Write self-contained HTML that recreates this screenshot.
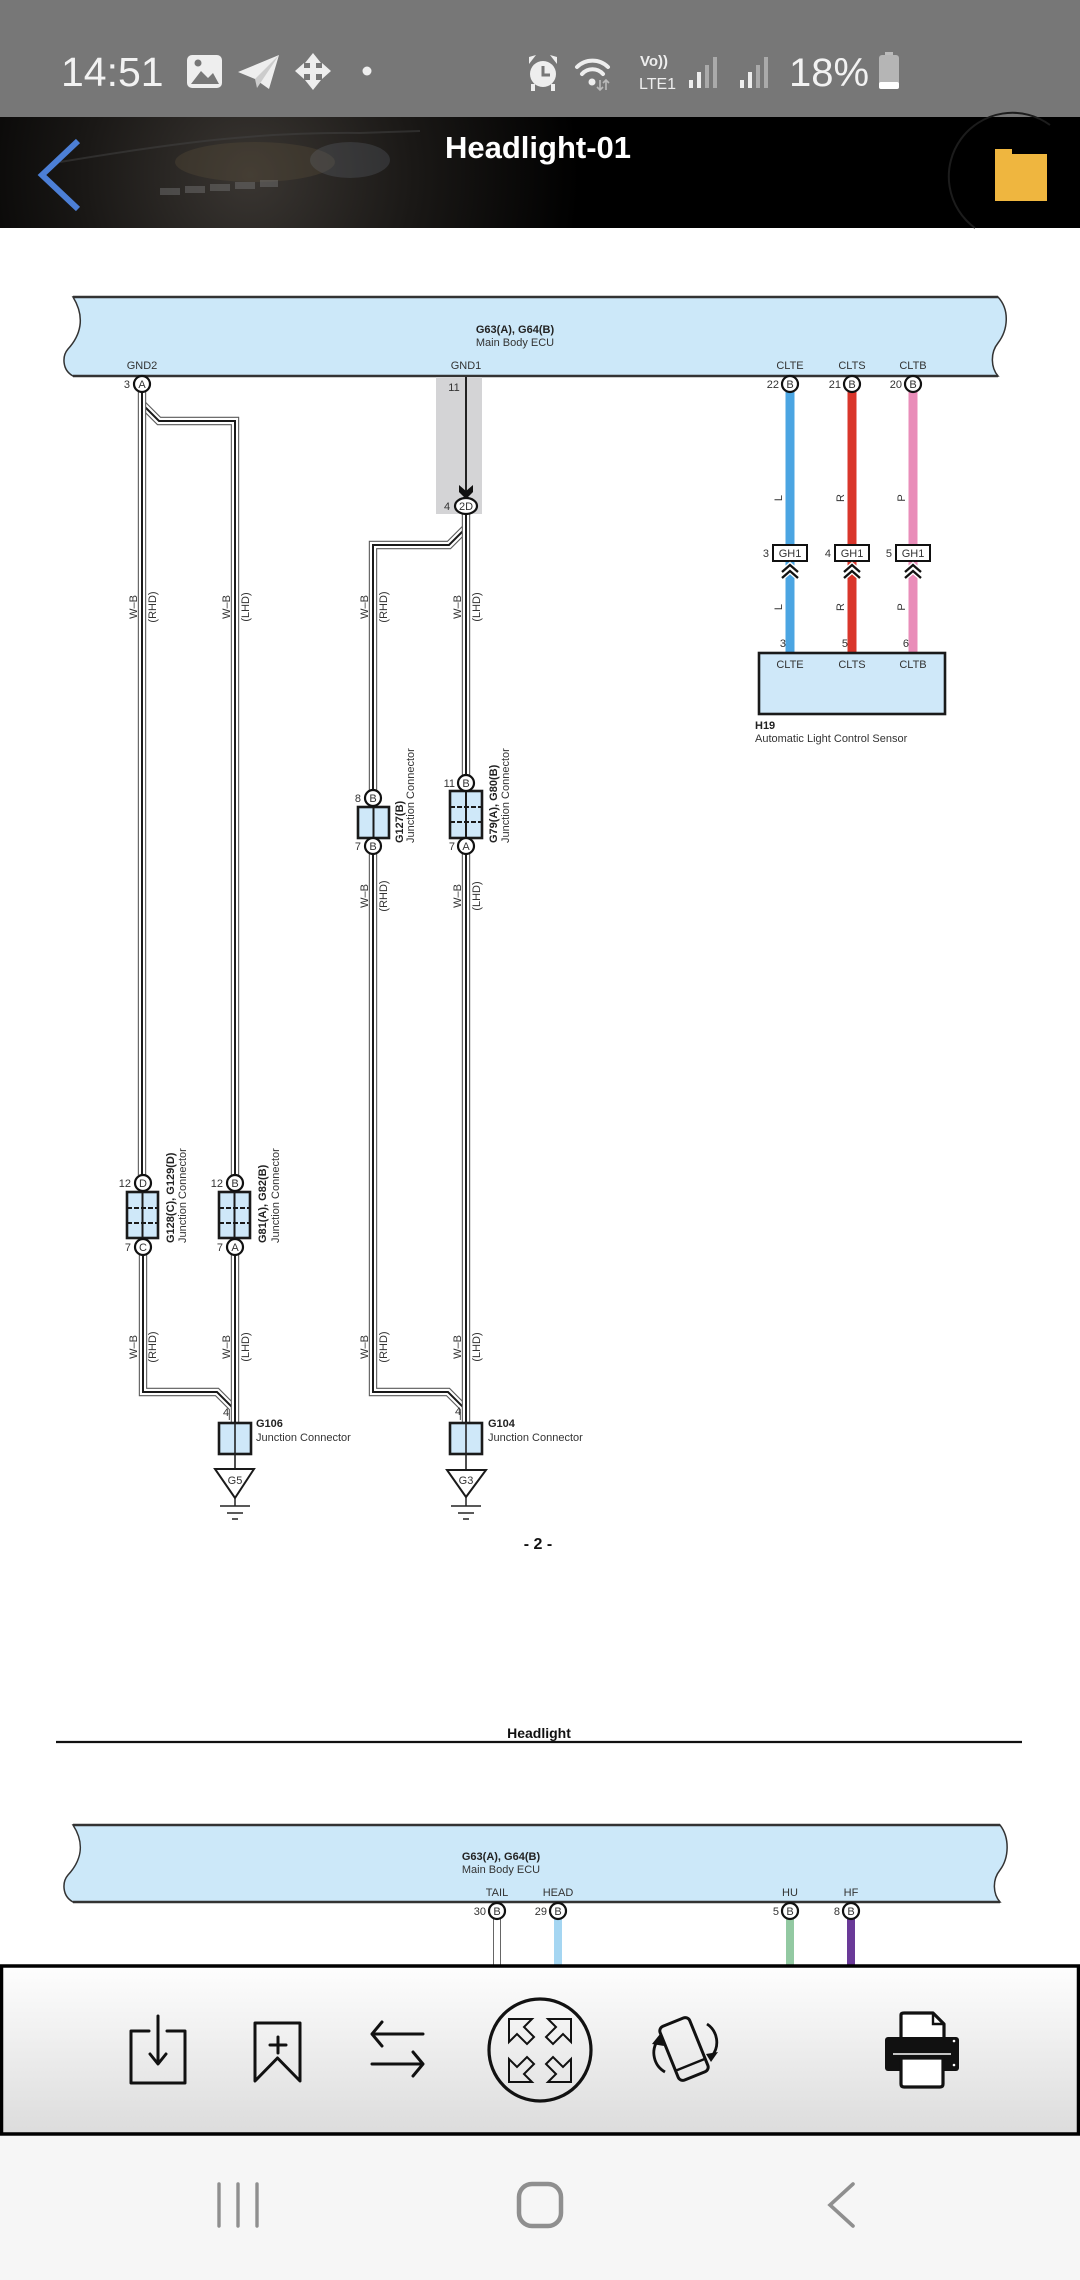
<!DOCTYPE html>
<html><head><meta charset="utf-8"><style>
html,body{margin:0;padding:0;background:#fff;}
body{width:1080px;height:2280px;overflow:hidden;position:relative;font-family:"Liberation Sans",Arial,sans-serif;}
svg{position:absolute;left:0;top:0;}
.t{font-family:"Liberation Sans",Arial,sans-serif;font-size:11px;fill:#333;}
.b{font-weight:bold;fill:#222;}
.wo{fill:none;stroke:#5a5a5a;stroke-width:8.4;}
.wm{fill:none;stroke:#fff;stroke-width:6.2;}
.wc{fill:none;stroke:#1a1a1a;stroke-width:2;}
.pin{fill:#fff;stroke:#111;stroke-width:2.2;}
.jc{fill:#cfe8f9;stroke:#1a1a1a;stroke-width:2.6;}
.ic{fill:none;stroke:#111;stroke-width:3;stroke-linecap:round;stroke-linejoin:round;}
</style></head><body>
<svg width="1080" height="2280" viewBox="0 0 1080 2280" xmlns="http://www.w3.org/2000/svg">
<defs>
<radialGradient id="car" cx="250" cy="175" r="330" gradientUnits="userSpaceOnUse">
<stop offset="0" stop-color="#3a3632"/><stop offset="0.5" stop-color="#1a1816"/><stop offset="1" stop-color="#000"/>
</radialGradient>
<linearGradient id="tb" x1="0" y1="0" x2="0" y2="1">
<stop offset="0" stop-color="#fefefe"/><stop offset="1" stop-color="#dcdcdc"/>
</linearGradient>
</defs>

<!-- STATUS BAR -->
<rect x="0" y="0" width="1080" height="117" fill="#777"/>
<text x="61" y="86" font-family="Liberation Sans, Arial, sans-serif" font-size="41" fill="#f2f2f2">14:51</text>
<rect x="187" y="55" width="35" height="33" rx="5" fill="#eee"/>
<polygon points="191,84 201,71 208,78 213,73 219,84" fill="#777"/>
<circle cx="198" cy="63" r="3.5" fill="#777"/>
<polygon points="238,72 279,55 269,89 255,79" fill="#eee"/>
<polygon points="255,79 279,55 257,88" fill="#ccc"/>
<g fill="#eee"><polygon points="313,53 305,63 321,63"/><polygon points="313,90 305,80 321,80"/><polygon points="295,71 304,63 304,79"/><polygon points="331,71 322,63 322,79"/><rect x="310" y="60" width="6" height="23"/><rect x="302" y="68" width="22" height="6"/></g>
<circle cx="367" cy="71" r="4.5" fill="#eee"/>
<g fill="#eee"><circle cx="543" cy="74" r="13"/><polygon points="529,64 536,55 529,57"/><polygon points="557,64 550,55 557,57"/><rect x="531" y="84" width="4" height="7"/><rect x="551" y="84" width="4" height="7"/></g>
<path d="M543,66 V75 H550" stroke="#777" stroke-width="3" fill="none"/>
<g fill="none" stroke="#eee" stroke-width="4" stroke-linecap="round"><path d="M577,67 A22,22 0 0 1 608,67"/><path d="M582,74 A14,14 0 0 1 603,74"/></g>
<circle cx="592" cy="82" r="3.5" fill="#eee"/>
<path d="M600,80 v10 M597,87 l3,3 l3,-3 M606,90 v-10 M603,83 l3,-3 l3,3" stroke="#bbb" stroke-width="1.6" fill="none"/>
<text x="640" y="66" font-size="15" font-weight="bold" fill="#eee" font-family="Liberation Sans, Arial, sans-serif">Vo))</text>
<text x="639" y="89" font-size="16" fill="#eee" font-family="Liberation Sans, Arial, sans-serif">LTE1</text>
<g><rect x="689" y="80" width="4" height="8" fill="#eee"/><rect x="697" y="72" width="4" height="16" fill="#eee"/><rect x="705" y="65" width="4" height="23" fill="#aaa"/><rect x="713" y="57" width="4" height="31" fill="#aaa"/></g>
<g><rect x="740" y="80" width="4" height="8" fill="#eee"/><rect x="748" y="72" width="4" height="16" fill="#eee"/><rect x="756" y="65" width="4" height="23" fill="#aaa"/><rect x="764" y="57" width="4" height="31" fill="#aaa"/></g>
<text x="789" y="86" font-family="Liberation Sans, Arial, sans-serif" font-size="40" fill="#f2f2f2">18%</text>
<rect x="885" y="52" width="8" height="5" fill="#bbb"/>
<rect x="879" y="55" width="20" height="34" rx="3" fill="#b5b5b5"/>
<rect x="879" y="82" width="20" height="7" rx="2" fill="#fff"/>

<!-- APP BAR -->
<rect x="0" y="117" width="1080" height="111" fill="#000"/>
<rect x="0" y="117" width="700" height="111" fill="url(#car)"/>
<path d="M60,162 C180,142 260,132 360,133 L420,131" stroke="#444" stroke-width="2" fill="none" opacity="0.5"/>
<ellipse cx="255" cy="162" rx="80" ry="20" fill="#5a4c3a" opacity="0.35"/>
<ellipse cx="350" cy="160" rx="40" ry="18" fill="#6a7280" opacity="0.25"/>
<g fill="#777" opacity="0.45"><rect x="160" y="188" width="20" height="7"/><rect x="185" y="186" width="20" height="7"/><rect x="210" y="184" width="20" height="7"/><rect x="235" y="182" width="20" height="7"/><rect x="260" y="180" width="18" height="7"/></g>
<polyline points="78,141 42,175 78,209" fill="none" stroke="#4c7fd6" stroke-width="6" stroke-linejoin="miter"/>
<text x="538" y="158" text-anchor="middle" font-family="Liberation Sans, Arial, sans-serif" font-size="31" font-weight="bold" fill="#fff">Headlight-01</text>
<path d="M975,228 A60,60 0 0 1 1050,125" stroke="#1c1c1c" stroke-width="2" fill="none"/>
<path d="M995,149 H1012 V154 H1047 V201 H995 Z" fill="#efb63f"/>

<!-- ================= DIAGRAM 1 ================= -->
<path d="M73,297 H998 C1010,310 1008,330 998,343 C990,353 991,368 998,376 H73 C62,370 62,356 68,349 C80,336 86,318 73,297 Z" fill="#cce8f9" stroke="#333" stroke-width="1.5"/>
<line x1="73" y1="297" x2="998" y2="297" stroke="#333" stroke-width="2.5"/>
<line x1="73" y1="376" x2="998" y2="376" stroke="#333" stroke-width="2.5"/>
<text class="t b" x="515" y="333" text-anchor="middle">G63(A), G64(B)</text>
<text class="t" x="515" y="346" text-anchor="middle">Main Body ECU</text>
<text class="t" x="142" y="369" text-anchor="middle">GND2</text>
<text class="t" x="466" y="369" text-anchor="middle">GND1</text>
<text class="t" x="790" y="369" text-anchor="middle">CLTE</text>
<text class="t" x="852" y="369" text-anchor="middle">CLTS</text>
<text class="t" x="913" y="369" text-anchor="middle">CLTB</text>

<rect x="436" y="377" width="46" height="137" fill="#d4d4d6"/>
<line x1="466" y1="377" x2="466" y2="492" stroke="#222" stroke-width="2"/>
<path d="M459,485 L466,491 L473,485 L473,492 L466,499 L459,492 Z" fill="#111"/>
<text class="t" x="454" y="391" text-anchor="middle">11</text>

<g>
<path class="wo" d="M142,404 L159,421 H235 V1175"/><path class="wm" d="M142,404 L159,421 H235 V1175"/><path class="wc" d="M142,404 L159,421 H235 V1175"/>
<path class="wo" d="M142,392 V1175"/><path class="wm" d="M142,392 V1175"/><path class="wc" d="M142,392 V1175"/>
<path class="wo" d="M466,528 L449,545 H373 V790"/><path class="wm" d="M466,528 L449,545 H373 V790"/><path class="wc" d="M466,528 L449,545 H373 V790"/>
<path class="wo" d="M466,514 V775"/><path class="wm" d="M466,514 V775"/><path class="wc" d="M466,514 V775"/>
<path class="wo" d="M143,1255 V1392 H217 L233,1408 V1420"/><path class="wm" d="M143,1255 V1392 H217 L233,1408 V1420"/><path class="wc" d="M143,1255 V1392 H217 L233,1408 V1420"/>
<path class="wo" d="M235,1255 V1423"/><path class="wm" d="M235,1255 V1423"/><path class="wc" d="M235,1255 V1423"/>
<path class="wo" d="M373,854 V1392 H448 L464,1408 V1420"/><path class="wm" d="M373,854 V1392 H448 L464,1408 V1420"/><path class="wc" d="M373,854 V1392 H448 L464,1408 V1420"/>
<path class="wo" d="M466,854 V1423"/><path class="wm" d="M466,854 V1423"/><path class="wc" d="M466,854 V1423"/>
</g>

<circle class="pin" cx="142" cy="384" r="8"/><text class="t" x="142" y="388" text-anchor="middle" font-size="10">A</text>
<text class="t" x="130" y="388" text-anchor="end">3</text>
<ellipse class="pin" cx="466" cy="506" rx="11" ry="8"/><text class="t" x="466" y="510" text-anchor="middle" font-size="10">2D</text>
<text class="t" x="447" y="510" text-anchor="middle">4</text>

<line x1="790" y1="392" x2="790" y2="653" stroke="#4ba5e2" stroke-width="9"/>
<line x1="852" y1="392" x2="852" y2="653" stroke="#d9362b" stroke-width="9"/>
<line x1="913" y1="392" x2="913" y2="653" stroke="#e98db9" stroke-width="9"/>
<circle class="pin" cx="790" cy="384" r="8"/><text class="t" x="790" y="388" text-anchor="middle" font-size="10">B</text>
<circle class="pin" cx="852" cy="384" r="8"/><text class="t" x="852" y="388" text-anchor="middle" font-size="10">B</text>
<circle class="pin" cx="913" cy="384" r="8"/><text class="t" x="913" y="388" text-anchor="middle" font-size="10">B</text>
<text class="t" x="779" y="388" text-anchor="end">22</text>
<text class="t" x="841" y="388" text-anchor="end">21</text>
<text class="t" x="902" y="388" text-anchor="end">20</text>
<g class="t" font-size="10">
<text transform="translate(782,498) rotate(-90)" text-anchor="middle">L</text>
<text transform="translate(844,498) rotate(-90)" text-anchor="middle">R</text>
<text transform="translate(905,498) rotate(-90)" text-anchor="middle">P</text>
<text transform="translate(782,607) rotate(-90)" text-anchor="middle">L</text>
<text transform="translate(844,607) rotate(-90)" text-anchor="middle">R</text>
<text transform="translate(905,607) rotate(-90)" text-anchor="middle">P</text>
</g>
<g>
<rect x="773" y="545" width="34" height="16" fill="#fff" stroke="#111" stroke-width="2"/>
<rect x="835" y="545" width="34" height="16" fill="#fff" stroke="#111" stroke-width="2"/>
<rect x="896" y="545" width="34" height="16" fill="#fff" stroke="#111" stroke-width="2"/>
<text class="t" x="790" y="557" text-anchor="middle">GH1</text>
<text class="t" x="852" y="557" text-anchor="middle">GH1</text>
<text class="t" x="913" y="557" text-anchor="middle">GH1</text>
<text class="t" x="769" y="557" text-anchor="end">3</text>
<text class="t" x="831" y="557" text-anchor="end">4</text>
<text class="t" x="892" y="557" text-anchor="end">5</text>
<g fill="none" stroke="#fff" stroke-width="5">
<polyline points="782,572 790,565 798,572"/><polyline points="782,578 790,571 798,578"/>
<polyline points="844,572 852,565 860,572"/><polyline points="844,578 852,571 860,578"/>
<polyline points="905,572 913,565 921,572"/><polyline points="905,578 913,571 921,578"/>
</g>
<g fill="none" stroke="#111" stroke-width="2.3">
<polyline points="782,572 790,565 798,572"/><polyline points="782,578 790,571 798,578"/>
<polyline points="844,572 852,565 860,572"/><polyline points="844,578 852,571 860,578"/>
<polyline points="905,572 913,565 921,572"/><polyline points="905,578 913,571 921,578"/>
</g>
</g>
<text class="t" x="786" y="647" text-anchor="end">3</text>
<text class="t" x="848" y="647" text-anchor="end">5</text>
<text class="t" x="909" y="647" text-anchor="end">6</text>
<rect x="759" y="653" width="186" height="61" fill="#cfe8f9" stroke="#1a1a1a" stroke-width="2.6"/>
<text class="t" x="790" y="668" text-anchor="middle">CLTE</text>
<text class="t" x="852" y="668" text-anchor="middle">CLTS</text>
<text class="t" x="913" y="668" text-anchor="middle">CLTB</text>
<text class="t b" x="755" y="729">H19</text>
<text class="t" x="755" y="742">Automatic Light Control Sensor</text>

<g class="t" font-size="10" fill="#444">
<text transform="translate(137,607) rotate(-90)" text-anchor="middle">W–B</text>
<text transform="translate(156,607) rotate(-90)" text-anchor="middle">(RHD)</text>
<text transform="translate(230,607) rotate(-90)" text-anchor="middle">W–B</text>
<text transform="translate(249,607) rotate(-90)" text-anchor="middle">(LHD)</text>
<text transform="translate(368,607) rotate(-90)" text-anchor="middle">W–B</text>
<text transform="translate(387,607) rotate(-90)" text-anchor="middle">(RHD)</text>
<text transform="translate(461,607) rotate(-90)" text-anchor="middle">W–B</text>
<text transform="translate(480,607) rotate(-90)" text-anchor="middle">(LHD)</text>
<text transform="translate(368,896) rotate(-90)" text-anchor="middle">W–B</text>
<text transform="translate(387,896) rotate(-90)" text-anchor="middle">(RHD)</text>
<text transform="translate(461,896) rotate(-90)" text-anchor="middle">W–B</text>
<text transform="translate(480,896) rotate(-90)" text-anchor="middle">(LHD)</text>
<text transform="translate(137,1347) rotate(-90)" text-anchor="middle">W–B</text>
<text transform="translate(156,1347) rotate(-90)" text-anchor="middle">(RHD)</text>
<text transform="translate(230,1347) rotate(-90)" text-anchor="middle">W–B</text>
<text transform="translate(249,1347) rotate(-90)" text-anchor="middle">(LHD)</text>
<text transform="translate(368,1347) rotate(-90)" text-anchor="middle">W–B</text>
<text transform="translate(387,1347) rotate(-90)" text-anchor="middle">(RHD)</text>
<text transform="translate(461,1347) rotate(-90)" text-anchor="middle">W–B</text>
<text transform="translate(480,1347) rotate(-90)" text-anchor="middle">(LHD)</text>
</g>

<!-- G127 -->
<rect class="jc" x="358" y="807" width="31" height="31"/>
<line x1="373.5" y1="807" x2="373.5" y2="838" stroke="#1a1a1a" stroke-width="2"/>
<circle class="pin" cx="373" cy="798" r="8"/><text class="t" x="373" y="802" text-anchor="middle" font-size="10">B</text>
<circle class="pin" cx="373" cy="846" r="8"/><text class="t" x="373" y="850" text-anchor="middle" font-size="10">B</text>
<text class="t" x="361" y="802" text-anchor="end">8</text>
<text class="t" x="361" y="850" text-anchor="end">7</text>
<text class="t b" transform="translate(403,843) rotate(-90)">G127(B)</text>
<text class="t" transform="translate(414,843) rotate(-90)">Junction Connector</text>

<!-- G79 -->
<rect class="jc" x="450" y="791" width="32" height="47"/>
<line x1="466" y1="791" x2="466" y2="838" stroke="#1a1a1a" stroke-width="2"/>
<line x1="450" y1="807" x2="482" y2="807" stroke="#1a1a1a" stroke-width="2" stroke-dasharray="5,2"/>
<line x1="450" y1="822" x2="482" y2="822" stroke="#1a1a1a" stroke-width="2" stroke-dasharray="5,2"/>
<circle class="pin" cx="466" cy="783" r="8"/><text class="t" x="466" y="787" text-anchor="middle" font-size="10">B</text>
<circle class="pin" cx="466" cy="846" r="8"/><text class="t" x="466" y="850" text-anchor="middle" font-size="10">A</text>
<text class="t" x="455" y="787" text-anchor="end">11</text>
<text class="t" x="455" y="850" text-anchor="end">7</text>
<text class="t b" transform="translate(497,843) rotate(-90)">G79(A), G80(B)</text>
<text class="t" transform="translate(509,843) rotate(-90)">Junction Connector</text>

<!-- G128 -->
<rect class="jc" x="127" y="1192" width="31" height="46"/>
<line x1="142.5" y1="1192" x2="142.5" y2="1238" stroke="#1a1a1a" stroke-width="2"/>
<line x1="127" y1="1208" x2="158" y2="1208" stroke="#1a1a1a" stroke-width="2" stroke-dasharray="5,2"/>
<line x1="127" y1="1223" x2="158" y2="1223" stroke="#1a1a1a" stroke-width="2" stroke-dasharray="5,2"/>
<circle class="pin" cx="143" cy="1183" r="8"/><text class="t" x="143" y="1187" text-anchor="middle" font-size="10">D</text>
<circle class="pin" cx="143" cy="1247" r="8"/><text class="t" x="143" y="1251" text-anchor="middle" font-size="10">C</text>
<text class="t" x="131" y="1187" text-anchor="end">12</text>
<text class="t" x="131" y="1251" text-anchor="end">7</text>
<text class="t b" transform="translate(174,1243) rotate(-90)">G128(C), G129(D)</text>
<text class="t" transform="translate(186,1243) rotate(-90)">Junction Connector</text>

<!-- G81 -->
<rect class="jc" x="219" y="1192" width="31" height="46"/>
<line x1="234.5" y1="1192" x2="234.5" y2="1238" stroke="#1a1a1a" stroke-width="2"/>
<line x1="219" y1="1208" x2="250" y2="1208" stroke="#1a1a1a" stroke-width="2" stroke-dasharray="5,2"/>
<line x1="219" y1="1223" x2="250" y2="1223" stroke="#1a1a1a" stroke-width="2" stroke-dasharray="5,2"/>
<circle class="pin" cx="235" cy="1183" r="8"/><text class="t" x="235" y="1187" text-anchor="middle" font-size="10">B</text>
<circle class="pin" cx="235" cy="1247" r="8"/><text class="t" x="235" y="1251" text-anchor="middle" font-size="10">A</text>
<text class="t" x="223" y="1187" text-anchor="end">12</text>
<text class="t" x="223" y="1251" text-anchor="end">7</text>
<text class="t b" transform="translate(266,1243) rotate(-90)">G81(A), G82(B)</text>
<text class="t" transform="translate(279,1243) rotate(-90)">Junction Connector</text>

<!-- G106 / G104 -->
<text class="t" x="226" y="1416" text-anchor="middle">4</text>
<text class="t" x="458" y="1415" text-anchor="middle">4</text>
<rect class="jc" x="219" y="1423" width="32" height="31"/>
<rect class="jc" x="450" y="1423" width="32" height="31"/>
<line x1="235" y1="1423" x2="235" y2="1469" stroke="#222" stroke-width="1.6"/>
<line x1="466" y1="1423" x2="466" y2="1470" stroke="#222" stroke-width="1.6"/>
<text class="t b" x="256" y="1427">G106</text>
<text class="t" x="256" y="1441">Junction Connector</text>
<text class="t b" x="488" y="1427">G104</text>
<text class="t" x="488" y="1441">Junction Connector</text>
<polygon points="215,1469 254,1469 235,1498" fill="#fff" stroke="#1a1a1a" stroke-width="2"/>
<text class="t" x="235" y="1484" text-anchor="middle" font-size="10">G5</text>
<line x1="235" y1="1498" x2="235" y2="1506" stroke="#222" stroke-width="1.5"/>
<line x1="220" y1="1506" x2="250" y2="1506" stroke="#222" stroke-width="1.5"/>
<line x1="227" y1="1513" x2="243" y2="1513" stroke="#222" stroke-width="1.5"/>
<line x1="232" y1="1519" x2="238" y2="1519" stroke="#222" stroke-width="1.5"/>
<polygon points="447,1470 486,1470 466,1497" fill="#fff" stroke="#1a1a1a" stroke-width="2"/>
<text class="t" x="466" y="1484" text-anchor="middle" font-size="10">G3</text>
<line x1="466" y1="1497" x2="466" y2="1506" stroke="#222" stroke-width="1.5"/>
<line x1="451" y1="1506" x2="481" y2="1506" stroke="#222" stroke-width="1.5"/>
<line x1="458" y1="1513" x2="474" y2="1513" stroke="#222" stroke-width="1.5"/>
<line x1="463" y1="1519" x2="469" y2="1519" stroke="#222" stroke-width="1.5"/>

<text x="538" y="1549" text-anchor="middle" font-family="Liberation Sans, Arial, sans-serif" font-size="16" font-weight="bold" fill="#111">- 2 -</text>

<!-- ================= DIAGRAM 2 ================= -->
<text x="539" y="1738" text-anchor="middle" font-family="Liberation Sans, Arial, sans-serif" font-size="14" font-weight="bold" fill="#111">Headlight</text>
<line x1="56" y1="1742" x2="1022" y2="1742" stroke="#111" stroke-width="2.2"/>

<path d="M73,1825 H1000 C1010,1838 1009,1858 1000,1870 C992,1880 993,1894 1000,1902 H73 C62,1896 62,1882 68,1875 C80,1862 86,1845 73,1825 Z" fill="#cce8f9" stroke="#333" stroke-width="1.5"/>
<line x1="73" y1="1825" x2="1000" y2="1825" stroke="#333" stroke-width="2.5"/>
<line x1="73" y1="1902" x2="1000" y2="1902" stroke="#333" stroke-width="2.5"/>
<text class="t b" x="501" y="1860" text-anchor="middle">G63(A), G64(B)</text>
<text class="t" x="501" y="1873" text-anchor="middle">Main Body ECU</text>
<text class="t" x="497" y="1896" text-anchor="middle">TAIL</text>
<text class="t" x="558" y="1896" text-anchor="middle">HEAD</text>
<text class="t" x="790" y="1896" text-anchor="middle">HU</text>
<text class="t" x="851" y="1896" text-anchor="middle">HF</text>
<line x1="497" y1="1918" x2="497" y2="1966" stroke="#666" stroke-width="8"/>
<line x1="497" y1="1918" x2="497" y2="1966" stroke="#fff" stroke-width="6"/>
<line x1="558" y1="1918" x2="558" y2="1966" stroke="#a5d6f2" stroke-width="8"/>
<line x1="790" y1="1918" x2="790" y2="1966" stroke="#93c9a2" stroke-width="8"/>
<line x1="851" y1="1918" x2="851" y2="1966" stroke="#6a3a98" stroke-width="8"/>
<circle class="pin" cx="497" cy="1911" r="8"/><text class="t" x="497" y="1915" text-anchor="middle" font-size="10">B</text>
<circle class="pin" cx="558" cy="1911" r="8"/><text class="t" x="558" y="1915" text-anchor="middle" font-size="10">B</text>
<circle class="pin" cx="790" cy="1911" r="8"/><text class="t" x="790" y="1915" text-anchor="middle" font-size="10">B</text>
<circle class="pin" cx="851" cy="1911" r="8"/><text class="t" x="851" y="1915" text-anchor="middle" font-size="10">B</text>
<text class="t" x="486" y="1915" text-anchor="end">30</text>
<text class="t" x="547" y="1915" text-anchor="end">29</text>
<text class="t" x="779" y="1915" text-anchor="end">5</text>
<text class="t" x="840" y="1915" text-anchor="end">8</text>

<!-- TOOLBAR -->
<rect x="1.5" y="1966" width="1077" height="168" fill="url(#tb)" stroke="#000" stroke-width="3.5"/>
<path class="ic" d="M131,2031 V2083 H185 V2031 M131,2031 H149 M167,2031 H185" stroke-linecap="butt"/>
<path class="ic" d="M158,2016 V2063 M150,2054 L158,2064 L166,2054"/>
<path class="ic" d="M255,2023 H300 V2081 L277.5,2058 L255,2081 Z" stroke-width="2.6"/>
<path class="ic" d="M278,2037 V2053 M270,2045 H286" stroke-width="2.4"/>
<path class="ic" d="M372,2034 H423 M382,2022 L372,2034 L382,2046" stroke-width="2.8"/>
<path class="ic" d="M372,2064 H423 M413,2052 L423,2064 L413,2076" stroke-width="2.8"/>
<circle cx="540" cy="2050" r="51" fill="none" stroke="#111" stroke-width="3.2"/>
<g fill="none" stroke="#111" stroke-width="2" stroke-linejoin="miter">
<path transform="translate(509,2019)" d="M0,0 H23 L15,8 L25,18 L18,25 L8,15 L0,23 Z"/>
<path transform="translate(571,2019) scale(-1,1)" d="M0,0 H23 L15,8 L25,18 L18,25 L8,15 L0,23 Z"/>
<path transform="translate(509,2082) scale(1,-1)" d="M0,0 H23 L15,8 L25,18 L18,25 L8,15 L0,23 Z"/>
<path transform="translate(571,2082) scale(-1,-1)" d="M0,0 H23 L15,8 L25,18 L18,25 L8,15 L0,23 Z"/>
</g>
<g transform="translate(684,2049) rotate(-22)">
<rect x="-16" y="-29" width="32" height="58" rx="5" fill="none" stroke="#111" stroke-width="3"/>
<line x1="-16" y1="17" x2="16" y2="17" stroke="#111" stroke-width="2.4"/>
</g>
<path d="M658,2040 A22,22 0 0 0 665,2072" fill="none" stroke="#111" stroke-width="2.8"/>
<polygon points="652,2044 660,2034 664,2046" fill="#111"/>
<path d="M707,2024 A22,22 0 0 1 712,2056" fill="none" stroke="#111" stroke-width="2.8"/>
<polygon points="706,2054 718,2052 711,2062" fill="#111"/>
<path d="M901,2038 V2015 Q901,2013 904,2013 H933 L944,2024 V2038" fill="#fff" stroke="#111" stroke-width="3.2" stroke-linejoin="round"/>
<path d="M933,2013 V2024 H944" fill="none" stroke="#111" stroke-width="2.4"/>
<rect x="885" y="2037" width="74" height="34" rx="3" fill="#111"/>
<line x1="893" y1="2054" x2="951" y2="2054" stroke="#fff" stroke-width="1.6"/>
<path d="M901,2058 V2084 Q901,2087 904,2087 H940 Q943,2087 943,2084 V2058 Z" fill="#fff" stroke="#111" stroke-width="3.2"/>
<circle cx="954" cy="2041" r="1.3" fill="#fff"/><circle cx="954" cy="2065" r="1.3" fill="#fff"/>

<!-- NAV BAR -->
<rect x="0" y="2136" width="1080" height="144" fill="#f6f6f6"/>
<g stroke="#8f8f8f" stroke-width="3.4" stroke-linecap="round" fill="none">
<line x1="219" y1="2184" x2="219" y2="2226"/>
<line x1="238" y1="2184" x2="238" y2="2226"/>
<line x1="257" y1="2184" x2="257" y2="2226"/>
<rect x="519" y="2184" width="42" height="42" rx="13" stroke-width="4.5"/>
<polyline points="853,2184 830,2205 853,2226" stroke-width="3.6"/>
</g>
</svg>
</body></html>
